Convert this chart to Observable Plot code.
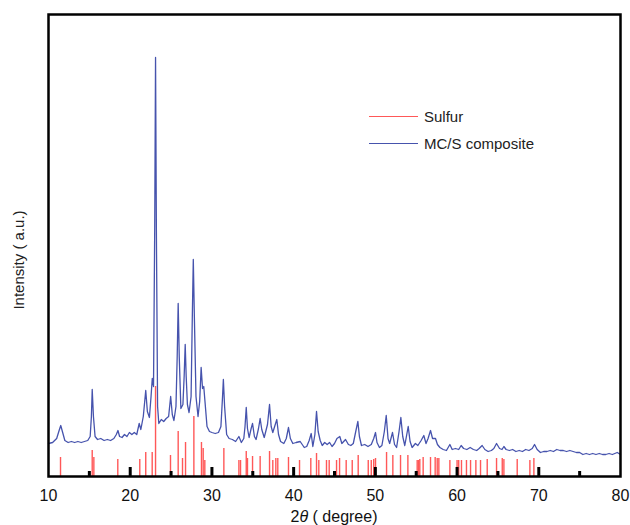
<!DOCTYPE html>
<html><head><meta charset="utf-8">
<script src="https://cdn.jsdelivr.net/npm/d3@7"></script>
<script src="https://cdn.jsdelivr.net/npm/@observablehq/plot@0.6"></script>
<style>
body{margin:0;background:#fff;}
#wrap{position:relative;width:630px;height:525px;font-family:"Liberation Sans",Arial,sans-serif;}
.leg{position:absolute;display:flex;align-items:center;font-size:15px;color:#222;}
.leg span.sw{display:inline-block;width:49px;height:0;border-top:1.5px solid;margin-right:6px;}
</style>
</head><body><div id="wrap"></div>
<script>
// MC/S composite XRD pattern (2θ in degrees, intensity in a.u.)
const compositeX = [10.0,10.5,11.0,11.3,11.5,11.7,12.0,12.4,12.8,13.2,13.6,14.0,14.4,14.8,15.1,15.25,15.35,15.5,15.7,16.0,16.4,16.8,17.2,17.6,18.0,18.3,18.5,18.7,19.0,19.3,19.6,19.9,20.2,20.5,20.8,21.1,21.3,21.6,21.9,22.1,22.35,22.55,22.7,22.85,23.0,23.1,23.2,23.35,23.5,23.8,24.1,24.4,24.7,24.95,25.15,25.35,25.6,25.75,25.87,26.0,26.2,26.45,26.6,26.73,26.85,27.0,27.2,27.45,27.6,27.72,27.85,28.05,28.3,28.5,28.68,28.85,29.0,29.15,29.4,29.7,30.0,30.4,30.8,31.1,31.3,31.4,31.55,31.8,32.1,32.5,32.9,33.3,33.6,33.9,34.05,34.2,34.35,34.55,34.8,34.97,35.2,35.4,35.7,35.9,36.1,36.4,36.8,37.05,37.25,37.45,37.75,37.94,38.15,38.4,38.8,39.1,39.37,39.6,39.9,40.3,40.8,41.3,41.6,41.9,42.15,42.35,42.6,42.8,43.0,43.25,43.5,43.8,44.1,44.4,44.7,45.0,45.3,45.65,45.9,46.35,46.7,47.0,47.3,47.6,47.86,48.05,48.3,48.7,49.1,49.5,49.8,50.02,50.2,50.5,50.8,51.1,51.33,51.55,51.75,52.1,52.35,52.6,52.9,53.12,53.35,53.6,53.8,54.02,54.25,54.5,54.9,55.2,55.6,55.93,56.2,56.45,56.75,57.0,57.36,57.6,57.9,58.3,58.7,59.12,59.4,59.8,60.2,60.5,60.8,61.2,61.6,62.0,62.4,62.7,63.07,63.4,63.8,64.2,64.5,64.83,65.2,65.5,65.73,66.0,66.4,66.8,67.2,67.6,68.0,68.4,68.8,69.2,69.48,69.8,70.2,70.6,71.0,71.4,71.8,72.2,72.6,73.0,73.4,73.8,74.2,74.6,75.0,75.4,75.8,76.2,76.6,77.0,77.4,77.8,78.2,78.6,79.0,79.3,79.6,79.8,80.0];
const compositeY = [33,34,38,46,51,45,36,34,35,34,35,34,35,36,40,60,87,60,40,37,38,36,37,36,38,42,46,40,39,42,40,44,42,44,42,53,47,60,86,65,59,80,98,90,250,419,250,70,53,57,55,58,60,80,62,56,70,120,173,120,68,72,100,132,100,72,64,80,160,217,160,80,60,75,109,88,90,75,50,45,44,43,44,50,80,97,70,42,38,37,35,40,34,38,50,69,48,39,48,53,40,37,48,58,47,39,52,72,50,44,52,57,42,35,33,38,49,38,33,34,35,29,30,36,43,30,42,65,45,36,31,34,32,34,30,33,38,40,33,37,32,31,33,45,55,40,31,32,30,32,38,44,34,29,31,45,61,38,33,44,32,29,45,59,40,31,40,50,35,29,33,31,36,41,33,38,46,38,38,32,29,27,26,32,27,28,27,31,28,27,29,27,26,28,31,27,25,26,28,33,28,27,30,27,26,27,25,26,25,27,26,28,32,27,24,25,25,26,25,27,26,26,25,26,25,24,24,22,23,22,23,22,23,22,22,23,22,23,24,23,22];

// Sulfur reference pattern (peak positions and relative heights)
const sulfurX = [11.47,15.35,15.55,18.48,21.17,21.9,22.69,23.1,24.93,25.87,26.4,26.77,27.79,28.72,28.93,29.13,31.46,33.3,33.5,34.2,34.35,34.97,35.9,37.05,37.45,37.82,38.06,39.37,40.72,42.1,42.8,43.08,44.02,44.35,45.25,45.62,46.43,47.17,47.9,49.13,49.5,49.8,50.02,51.37,52.14,53.08,53.98,55.12,55.3,55.44,55.85,56.75,57.32,57.57,57.77,59.12,60.0,60.2,60.54,61.15,61.65,62.3,62.87,63.69,64.83,65.53,65.73,67.36,68.91,69.4];
const sulfurY = [19,26,19,17,17,24,24,90,21,45,18,34,60,34,28,16,28,16,16,25,18,20,20,25,16,18,18,19,16,18,23,16,16,16,16,18,16,16,21,16,16,17,18,24,21,21,21,16,16,17,19,19,19,18,18,16,16,16,16,16,16,16,16,17,18,18,17,17,16,18];

const xTickLabels = [10,20,30,40,50,60,70,80];
const majorTicks = [20,30,40,50,60,70];
const minorTicks = [15,25,35,45,55,65,75];

const composite = compositeX.map((x,i)=>({x, y: compositeY[i]}));
const sulfur = sulfurX.map((x,i)=>({x, y: sulfurY[i]}));

const chart = Plot.plot({
  width: 630, height: 525,
  marginTop: 14, marginBottom: 49, marginLeft: 48, marginRight: 10,
  style: {fontFamily: '"Liberation Sans", Arial, sans-serif', background: "#fff", color: "#111"},
  x: {domain: [10, 80]},
  y: {domain: [0, 462], axis: null},
  marks: [
    Plot.ruleX(sulfur, {x: "x", y1: 0, y2: "y", stroke: "#ff5858", strokeWidth: 1.4}),
    Plot.line(composite, {x: "x", y: "y", stroke: "#4653ad", strokeWidth: 1.3}),
    Plot.ruleX(majorTicks, {x: d=>d, y1: 0, y2: 9, stroke: "#000", strokeWidth: 3}),
    Plot.ruleX(minorTicks, {x: d=>d, y1: 0, y2: 5, stroke: "#000", strokeWidth: 3}),
    Plot.frame({stroke: "#000", strokeWidth: 2.5}),
    Plot.axisX({ticks: xTickLabels, tickSize: 0, tickPadding: 13, fontSize: 16, label: null, tickFormat: d=>String(d)})
  ]
});

const svg = d3.select(chart);
const xl = svg.append("text").attr("x", 334).attr("y", 522).attr("text-anchor","middle")
  .attr("font-size", 16).attr("fill", "#111");
xl.append("tspan").text("2");
xl.append("tspan").attr("font-style","italic").text("θ");
xl.append("tspan").text(" ( degree)");
svg.append("text").attr("transform","translate(24,260) rotate(-90)").attr("text-anchor","middle")
  .attr("font-size", 15).attr("fill","#222").text("Intensity ( a.u.)");

const wrap = document.getElementById("wrap");
wrap.appendChild(chart);

const legendItems = [{label: "Sulfur", color: "#ff5858", top: 108}, {label: "MC/S composite", color: "#4653ad", top: 135}];
for (const it of legendItems) {
  const d = document.createElement("div");
  d.className = "leg";
  d.style.left = "369px"; d.style.top = it.top + "px";
  d.innerHTML = `<span class="sw" style="border-color:${it.color}"></span><span>${it.label}</span>`;
  wrap.appendChild(d);
}
</script>
</body></html>
